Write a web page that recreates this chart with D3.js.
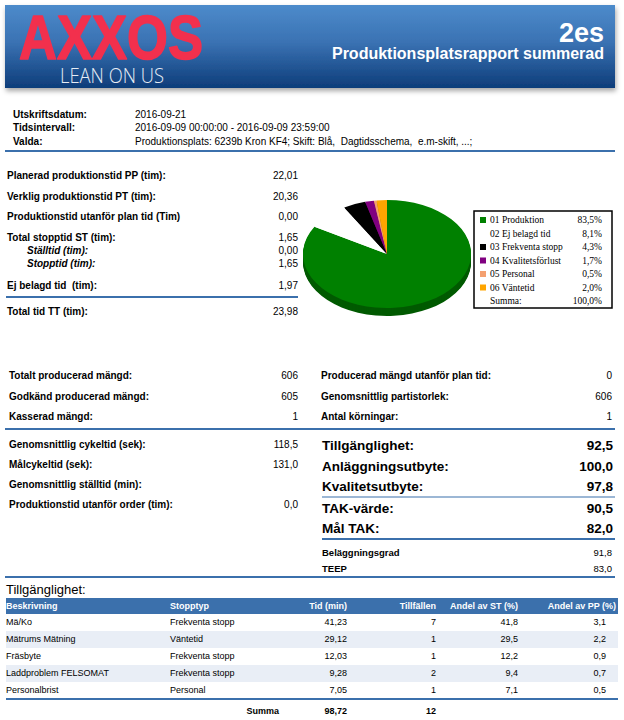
<!DOCTYPE html>
<html><head><meta charset="utf-8">
<script src="https://cdn.jsdelivr.net/npm/d3@7/dist/d3.min.js"></script>
<style>
html,body{margin:0;padding:0;background:#fff;}
svg{display:block;font-family:"Liberation Sans",Arial,sans-serif;}
text{white-space:pre;}
</style></head>
<body>
<svg id="c" width="624" height="720"></svg>
<script>
// ---------------- DATA ----------------
const reportCode = "2es";
const reportTitle = "Produktionsplatsrapport summerad";
const infoLabels = ["Utskriftsdatum:", "Tidsintervall:", "Valda:"];
const infoValues = ["2016-09-21", "2016-09-09 00:00:00 - 2016-09-09 23:59:00",
  "Produktionsplats: 6239b Kron KF4; Skift: Blå,  Dagtidsschema,  e.m-skift, ...;"];

const timeLabels = ["Planerad produktionstid PP (tim):", "Verklig produktionstid PT (tim):",
  "Produktionstid utanför plan tid (Tim)", "Total stopptid ST (tim):", "Ställtid (tim):",
  "Stopptid (tim):", "Ej belagd tid  (tim):", "Total tid TT (tim):"];
const timeValues = [22.01, 20.36, 0.00, 1.65, 0.00, 1.65, 1.97, 23.98];

const pieCategories = ["01 Produktion", "02 Ej belagd tid", "03 Frekventa stopp",
  "04 Kvalitetsförlust", "05 Personal", "06 Väntetid"];
const pieValues = [83.5, 8.1, 4.3, 1.7, 0.5, 2.0];
const pieTotal = 100.0;

const qtyLeftLabels = ["Totalt producerad mängd:", "Godkänd producerad mängd:", "Kasserad mängd:"];
const qtyLeftValues = [606, 605, 1];
const qtyRightLabels = ["Producerad mängd utanför plan tid:", "Genomsnittlig partistorlek:", "Antal körningar:"];
const qtyRightValues = [0, 606, 1];

const cycleLabels = ["Genomsnittlig cykeltid (sek):", "Målcykeltid (sek):",
  "Genomsnittlig ställtid (min):", "Produktionstid utanför order (tim):"];
const cycleValues = [118.5, 131.0, null, 0.0];

const kpiLabels = ["Tillgänglighet:", "Anläggningsutbyte:", "Kvalitetsutbyte:", "TAK-värde:", "Mål TAK:"];
const kpiValues = [92.5, 100.0, 97.8, 90.5, 82.0];
const extraLabels = ["Beläggningsgrad", "TEEP"];
const extraValues = [91.8, 83.0];

const tableTitle = "Tillgänglighet:";
const tableHeaders = ["Beskrivning", "Stopptyp", "Tid (min)", "Tillfällen", "Andel av ST (%)", "Andel av PP (%)"];
const stopDescriptions = ["Mä/Ko", "Mätrums Mätning", "Fräsbyte", "Laddproblem FELSOMAT", "Personalbrist"];
const stopTypes = ["Frekventa stopp", "Väntetid", "Frekventa stopp", "Frekventa stopp", "Personal"];
const stopMinutes = [41.23, 29.12, 12.03, 9.28, 7.05];
const stopCounts = [7, 1, 1, 2, 1];
const stopShareST = [41.8, 29.5, 12.2, 9.4, 7.1];
const stopSharePP = [3.1, 2.2, 0.9, 0.7, 0.5];
const sumLabel = "Summa";
const sumMinutes = 98.72;
const sumCount = 12;

// ---------------- HELPERS ----------------
const loc = d3.formatLocale({decimal: ",", thousands: " ", grouping: [3], currency: ["", ""]});
const f1 = loc.format(".1f"), f2 = loc.format(".2f"), f0 = loc.format("d");
const svg = d3.select("#c");
const BLUE = "#3b70ac";
const defs = svg.append("defs");

function txt(g, x, y, s, o) {
  o = o || {};
  const t = g.append("text").attr("x", x).attr("y", y).text(s)
    .attr("font-size", o.size || 10)
    .attr("font-weight", o.bold ? "bold" : "normal")
    .attr("fill", o.fill || "#000")
    .attr("text-anchor", o.anchor || "start")
    .attr("dominant-baseline", "central");
  if (o.italic) t.attr("font-style", "italic");
  if (o.family) t.attr("font-family", o.family);
  return t;
}
function hline(x1, x2, y, w, c) {
  svg.append("line").attr("x1", x1).attr("x2", x2).attr("y1", y).attr("y2", y)
    .attr("stroke", c || BLUE).attr("stroke-width", w || 2);
}

// ---------------- HEADER ----------------
const grad = defs.append("linearGradient").attr("id", "hg").attr("x1", 0).attr("y1", 0).attr("x2", 0).attr("y2", 1);
grad.append("stop").attr("offset", "0%").attr("stop-color", "#4d8bcb");
grad.append("stop").attr("offset", "45%").attr("stop-color", "#3a72b3");
grad.append("stop").attr("offset", "100%").attr("stop-color", "#0e3d7a");
const sh = defs.append("filter").attr("id", "sh").attr("x", "-5%").attr("y", "-10%").attr("width", "110%").attr("height", "130%");
sh.append("feDropShadow").attr("dx", 1).attr("dy", 3).attr("stdDeviation", 2.5).attr("flood-color", "#000").attr("flood-opacity", 0.35);
svg.append("rect").attr("x", 5).attr("y", 5).attr("width", 610).attr("height", 83)
  .attr("fill", "url(#hg)").attr("filter", "url(#sh)");

svg.append("text").attr("x", 19).attr("y", 59).text("AXXOS")
  .attr("font-size", 63).attr("font-weight", "bold").attr("fill", "#f2304d")
  .attr("stroke", "#f2304d").attr("stroke-width", 1.6).attr("stroke-linejoin", "round")
  .attr("textLength", 184).attr("lengthAdjust", "spacingAndGlyphs")
  .attr("font-family", "'Liberation Sans', Arial, sans-serif");
svg.append("text").attr("x", 60).attr("y", 83).text("LEAN ON US")
  .attr("font-size", 20).attr("font-weight", 300).attr("fill", "#e6edf5")
  .attr("textLength", 104).attr("lengthAdjust", "spacingAndGlyphs")
  .attr("font-family", "'Open Sans', Lato, sans-serif");
svg.append("text").attr("x", 604).attr("y", 42).attr("text-anchor", "end").text(reportCode)
  .attr("font-size", 27).attr("font-weight", "bold").attr("fill", "#fff");
svg.append("text").attr("x", 604).attr("y", 59).attr("text-anchor", "end").text(reportTitle)
  .attr("font-size", 16).attr("font-weight", "bold").attr("fill", "#fff");

// ---------------- INFO ----------------
const gi = svg.append("g");
infoLabels.forEach((l, i) => {
  const y = 114 + i * 13.5;
  txt(gi, 13, y, l, {bold: true});
  txt(gi, 135, y, infoValues[i]);
});
hline(5, 615, 151, 2);

// ---------------- TIME STATS ----------------
const timeY = [175, 196, 216, 237, 250, 263, 285, 311];
const gt = svg.append("g");
timeLabels.forEach((l, i) => {
  const sub = (i === 4 || i === 5);
  txt(gt, sub ? 27 : 7, timeY[i], l, {bold: true, italic: sub});
  txt(gt, 298, timeY[i], f2(timeValues[i]), {anchor: "end"});
});
hline(6, 298, 297, 2);

// ---------------- PIE ----------------
const pieColors = ["#008000", "#ffffff", "#000000", "#800080", "#f4a070", "#ffa500"];
const sideColors = ["#005a00", "#ffffff", "#000000", "#5a005a", "#b07050", "#b07400"];
const cx = 387, cy = 254, rx = 84, ry = 54, depth = 8;
const pieGen = d3.pie().sort(null).value(d => d)(pieValues);
const arcGen = d3.arc().innerRadius(0).outerRadius(rx);
for (let k = depth; k >= 1; k--) {
  svg.append("g").attr("transform", `translate(${cx},${cy + k}) scale(1,${ry / rx})`)
    .selectAll("path").data(pieGen).join("path")
    .attr("d", arcGen).attr("fill", (d, i) => sideColors[i]);
}
svg.append("g").attr("transform", `translate(${cx},${cy}) scale(1,${ry / rx})`)
  .selectAll("path").data(pieGen).join("path")
  .attr("d", arcGen).attr("fill", (d, i) => pieColors[i]);

// legend
const lg = svg.append("g");
lg.append("rect").attr("x", 474).attr("y", 211).attr("width", 138).attr("height", 97)
  .attr("fill", "#fff").attr("stroke", "#000").attr("stroke-width", 1.5);
const legY = d3.scaleLinear().domain([0, 6]).range([220, 301]);
const serif = "'Liberation Serif', 'Times New Roman', serif";
pieCategories.forEach((c, i) => {
  lg.append("rect").attr("x", 480).attr("y", legY(i) - 3).attr("width", 6).attr("height", 6).attr("fill", pieColors[i]);
  txt(lg, 490, legY(i), c, {size: 9.5, family: serif});
  txt(lg, 602, legY(i), f1(pieValues[i]) + "%", {size: 9.5, family: serif, anchor: "end"});
});
txt(lg, 490, legY(6), "Summa:", {size: 9.5, family: serif});
txt(lg, 602, legY(6), f1(pieTotal) + "%", {size: 9.5, family: serif, anchor: "end"});

// ---------------- QUANTITIES ----------------
const gq = svg.append("g");
const qY = [375, 396, 416];
qtyLeftLabels.forEach((l, i) => {
  txt(gq, 9, qY[i], l, {bold: true});
  txt(gq, 298, qY[i], f0(qtyLeftValues[i]), {anchor: "end"});
  txt(gq, 321, qY[i], qtyRightLabels[i], {bold: true});
  txt(gq, 612, qY[i], f0(qtyRightValues[i]), {anchor: "end"});
});
hline(5, 615, 429, 2);

// ---------------- CYCLE ----------------
const cY = [444, 464, 484, 504];
cycleLabels.forEach((l, i) => {
  txt(gq, 9, cY[i], l, {bold: true});
  if (cycleValues[i] !== null) txt(gq, 298, cY[i], f1(cycleValues[i]), {anchor: "end"});
});

// ---------------- KPI ----------------
const kY = [445, 466, 486, 508, 528];
kpiLabels.forEach((l, i) => {
  txt(gq, 322, kY[i], l, {bold: true, size: 13.5});
  txt(gq, 613, kY[i], f1(kpiValues[i]), {bold: true, size: 13.5, anchor: "end"});
});
hline(322, 615, 497, 1.2);
hline(322, 615, 539, 2);
const eY = [552, 568];
extraLabels.forEach((l, i) => {
  txt(gq, 322, eY[i], l, {bold: true, size: 9.5});
  txt(gq, 612, eY[i], f1(extraValues[i]), {anchor: "end", size: 9.5});
});
hline(5, 615, 577, 2);

// ---------------- TABLE ----------------
const gtab = svg.append("g");
txt(gtab, 6, 589, tableTitle, {size: 13});
gtab.append("rect").attr("x", 6).attr("y", 598).attr("width", 612).attr("height", 16).attr("fill", BLUE);
const colX = [6, 170, 347, 436, 518, 616];
const colAnchor = ["start", "start", "end", "end", "end", "end"];
tableHeaders.forEach((h, j) => txt(gtab, colX[j], 606, h, {bold: true, fill: "#fff", size: 9, anchor: colAnchor[j]}));
const rowY = d3.scaleBand().domain(d3.range(stopDescriptions.length)).range([614, 699]);
stopDescriptions.forEach((d, i) => {
  const y0 = rowY(i), h = rowY.bandwidth();
  if (i % 2 === 1) gtab.append("rect").attr("x", 6).attr("y", y0).attr("width", 612).attr("height", h).attr("fill", "#e9eef6");
  const yc = y0 + h / 2 - 1;
  const cells = [d, stopTypes[i], f2(stopMinutes[i]), f0(stopCounts[i]), f1(stopShareST[i]), f1(stopSharePP[i])];
  const cx2 = [6, 170, 347, 436, 518, 606];
  cells.forEach((c, j) => txt(gtab, cx2[j], yc, c, {size: 9, anchor: colAnchor[j]}));
});
hline(6, 618, 699, 2);
txt(gtab, 279, 711, sumLabel, {bold: true, size: 9, anchor: "end"});
txt(gtab, 347, 711, f2(sumMinutes), {bold: true, size: 9, anchor: "end"});
txt(gtab, 436, 711, f0(sumCount), {bold: true, size: 9, anchor: "end"});
</script>
</body></html>
